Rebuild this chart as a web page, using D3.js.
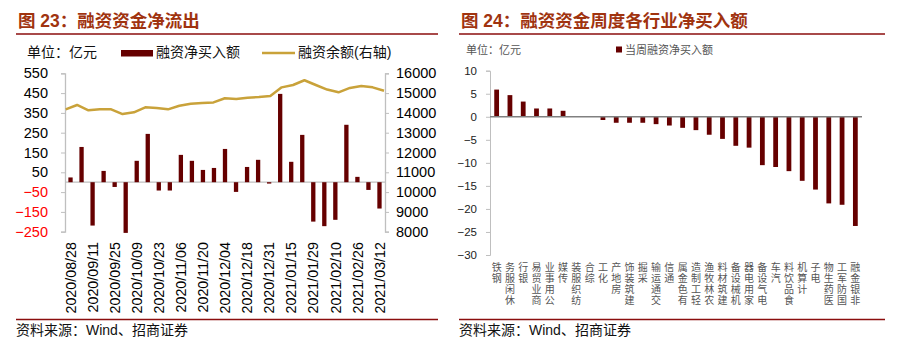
<!DOCTYPE html>
<html>
<head>
<meta charset="utf-8">
<script src="https://cdn.jsdelivr.net/npm/d3@7"></script>
<style>
  html, body { margin: 0; padding: 0; background: #fff; }
  svg { display: block; }
  text { font-family: "Liberation Sans", Arial, "Noto Sans CJK SC", sans-serif; }
  .cjk { font-family: "Liberation Sans", "Noto Sans CJK SC", sans-serif; }
</style>
</head>
<body>
<svg id="chart" width="904" height="349"></svg>
<script>
// ---- Figure 23: weekly margin net buying and margin balance ----
const weeks = [
  "2020/08/28","2020/09/04","2020/09/11","2020/09/18","2020/09/25","2020/09/30",
  "2020/10/09","2020/10/16","2020/10/23","2020/10/30","2020/11/06","2020/11/13",
  "2020/11/20","2020/11/27","2020/12/04","2020/12/11","2020/12/18","2020/12/25",
  "2020/12/31","2021/01/08","2021/01/15","2021/01/22","2021/01/29","2021/02/05",
  "2021/02/10","2021/02/19","2021/02/26","2021/03/05","2021/03/12"
];
const netBuy = [
  24, 178, -219, 57, -24, -256, 108, 244, -42, -42, 138, 108, 62, 72, 168,
  -49, 77, 113, -7, 446, 103, 239, -199, -222, -190, 290, 27, -39, -133
];
const balance = [
  14180, 14400, 14130, 14180, 14180, 13940, 14030, 14280, 14250, 14180, 14360,
  14460, 14500, 14530, 14740, 14700, 14770, 14800, 14850, 15290, 15410, 15650,
  15410, 15180, 15040, 15260, 15360, 15290, 15120
];
const leftTicks = [-250, -150, -50, 50, 150, 250, 350, 450, 550];
const rightTicks = [8000, 9000, 10000, 11000, 12000, 13000, 14000, 15000, 16000];

// ---- Figure 24: weekly margin net buying by industry ----
const industries = [
  "钢铁","休闲服务","银行","商业贸易","公用事业","传媒","纺织服装","综合","化工",
  "房地产","建筑装饰","采掘","交通运输","通信","有色金属","轻工制造","农林牧渔",
  "建筑材料","机械设备","家用电器","电气设备","汽车","食品饮料","计算机","电子",
  "医药生物","国防军工","非银金融"
];
const industryNet = [
  5.9, 4.7, 3.3, 1.8, 1.8, 1.3, 0, 0, -0.7, -1.3, -1.3, -1.3, -1.6, -1.9, -2.4,
  -2.9, -3.9, -4.8, -6.3, -6.7, -10.5, -10.9, -11.8, -13.9, -15.8, -18.8, -19.1, -23.7
];
const industryTicks = [-30, -25, -20, -15, -10, -5, 0, 5, 10];

const BAR = "#660000";
const LINE = "#C9A23A";
const AXIS = "#BFBFBF";
const TITLE = "#A0330F";
const RULE = "#8B0E0E";

const svg = d3.select("#chart");

// ---------- shared frame: titles, rules, source notes ----------
function frame(x0, x1, title) {
  svg.append("text").attr("class", "cjk")
    .attr("x", x0 + 2).attr("y", 27)
    .attr("font-size", 17.5).attr("font-weight", 700)
    .attr("fill", TITLE).text(title);
  svg.append("line").attr("x1", x0).attr("x2", x1).attr("y1", 34).attr("y2", 34)
    .attr("stroke", RULE).attr("stroke-width", 1.3);
  svg.append("line").attr("x1", x0).attr("x2", x1).attr("y1", 319.5).attr("y2", 319.5)
    .attr("stroke", RULE).attr("stroke-width", 1.3);
  svg.append("text").attr("class", "cjk")
    .attr("x", x0).attr("y", 335)
    .attr("font-size", 14).attr("fill", "#111")
    .text("资料来源：Wind、招商证券");
}
frame(16, 438, "图 23：融资资金净流出");
frame(459, 885, "图 24：融资资金周度各行业净买入额");

// ---------- left chart ----------
const L = { left: 65, right: 385, top: 73.3, bottom: 231.7 };
const xBand = d3.scaleBand().domain(weeks).range([L.left, L.right]).paddingInner(0.61).paddingOuter(0.305);
const xPoint = d3.scalePoint().domain(weeks).range([L.left + 0.7, L.right - 1]);
const yL = d3.scaleLinear().domain([-250, 550]).range([L.bottom, L.top]);
const yR = d3.scaleLinear().domain([8000, 16000]).range([L.bottom, L.top]);

// legend
svg.append("text").attr("class", "cjk").attr("x", 27).attr("y", 57)
  .attr("font-size", 14).attr("fill", "#111").text("单位：亿元");
svg.append("rect").attr("x", 121).attr("y", 50).attr("width", 32).attr("height", 6.5).attr("fill", BAR);
svg.append("text").attr("class", "cjk").attr("x", 156).attr("y", 57)
  .attr("font-size", 14).attr("fill", "#111").text("融资净买入额");
svg.append("line").attr("x1", 262).attr("x2", 295).attr("y1", 53).attr("y2", 53)
  .attr("stroke", LINE).attr("stroke-width", 2.5);
svg.append("text").attr("class", "cjk").attr("x", 298).attr("y", 57)
  .attr("font-size", 14).attr("fill", "#111").text("融资余额(右轴)");

// left axis
const axL = svg.append("g").attr("transform", `translate(${L.left},0)`)
  .call(d3.axisLeft(yL).tickValues(leftTicks).tickFormat(d3.format("d")).tickSize(4).tickPadding(13));
axL.select(".domain").attr("stroke", AXIS).attr("stroke-width", 1.3);
axL.selectAll(".tick line").attr("stroke", AXIS);
axL.selectAll(".tick text")
  .attr("font-size", 14.5)
  .attr("font-family", "Liberation Sans, Arial, sans-serif")
  .attr("fill", d => d < 0 ? "#FF0000" : "#000");

// right axis
const axR = svg.append("g").attr("transform", `translate(${L.right},0)`)
  .call(d3.axisRight(yR).tickValues(rightTicks).tickFormat(d3.format("d")).tickSize(4).tickPadding(7));
axR.select(".domain").attr("stroke", AXIS).attr("stroke-width", 1.3);
axR.selectAll(".tick line").attr("stroke", AXIS);
axR.selectAll(".tick text")
  .attr("font-size", 14.5)
  .attr("font-family", "Liberation Sans, Arial, sans-serif")
  .attr("fill", "#000");

// zero line
svg.append("line").attr("x1", L.left).attr("x2", L.right)
  .attr("y1", yL(0)).attr("y2", yL(0)).attr("stroke", AXIS).attr("stroke-width", 1.3);

// bars
svg.append("g").selectAll("rect").data(weeks).join("rect")
  .attr("x", d => xBand(d))
  .attr("width", xBand.bandwidth())
  .attr("y", (d, i) => yL(Math.max(0, netBuy[i])))
  .attr("height", (d, i) => Math.abs(yL(netBuy[i]) - yL(0)))
  .attr("fill", BAR);

// balance line
svg.append("path")
  .datum(weeks)
  .attr("d", d3.line().x(d => xPoint(d)).y((d, i) => yR(balance[i])))
  .attr("fill", "none").attr("stroke", LINE).attr("stroke-width", 2.5)
  .attr("stroke-linejoin", "round");

// rotated date labels (every other week)
svg.append("g").selectAll("text").data(weeks.filter((d, i) => i % 2 === 0)).join("text")
  .attr("transform", d => `translate(${xBand(d) + xBand.bandwidth() / 2},242) rotate(-90)`)
  .attr("text-anchor", "end").attr("dy", "0.36em")
  .attr("font-size", 14.3).attr("fill", "#000")
  .text(d => d);

// ---------- right chart ----------
const R = { left: 490, right: 862, top: 70.7, bottom: 255 };
const xInd = d3.scaleBand().domain(industries).range([R.left, R.right]).paddingInner(0.64).paddingOuter(0.32);
const yInd = d3.scaleLinear().domain([-30, 10]).range([R.bottom, R.top]);

// legend
svg.append("text").attr("class", "cjk").attr("x", 466).attr("y", 54)
  .attr("font-size", 11).attr("fill", "#555").text("单位：亿元");
svg.append("rect").attr("x", 616).attr("y", 46.5).attr("width", 6).attr("height", 6).attr("fill", BAR);
svg.append("text").attr("class", "cjk").attr("x", 625).attr("y", 54)
  .attr("font-size", 11).attr("fill", "#555").text("当周融资净买入额");

const axI = svg.append("g").attr("transform", `translate(${R.left},0)`)
  .call(d3.axisLeft(yInd).tickValues(industryTicks).tickSize(4).tickPadding(9));
axI.select(".domain").attr("stroke", AXIS).attr("stroke-width", 1);
axI.selectAll(".tick line").attr("stroke", AXIS);
axI.selectAll(".tick text")
  .attr("font-size", 11.5)
  .attr("font-family", "Liberation Sans, Arial, sans-serif")
  .attr("fill", "#222");

svg.append("g").selectAll("rect").data(industries).join("rect")
  .attr("x", d => xInd(d))
  .attr("width", xInd.bandwidth())
  .attr("y", (d, i) => yInd(Math.max(0, industryNet[i])))
  .attr("height", (d, i) => Math.abs(yInd(industryNet[i]) - yInd(0)))
  .attr("fill", BAR);

svg.append("line").attr("x1", R.left).attr("x2", R.right)
  .attr("y1", yInd(0)).attr("y2", yInd(0)).attr("stroke", "#808080").attr("stroke-width", 1.6);

// stacked industry names: upright characters, last character nearest the axis
const catG = svg.append("g");
industries.forEach(name => {
  const cx = xInd(name) + xInd.bandwidth() / 2;
  const chars = Array.from(name).reverse();
  chars.forEach((ch, k) => {
    catG.append("text").attr("class", "cjk")
      .attr("x", cx).attr("y", 271 + k * 11)
      .attr("text-anchor", "middle")
      .attr("font-size", 10).attr("fill", "#555")
      .text(ch);
  });
});
</script>
</body>
</html>
